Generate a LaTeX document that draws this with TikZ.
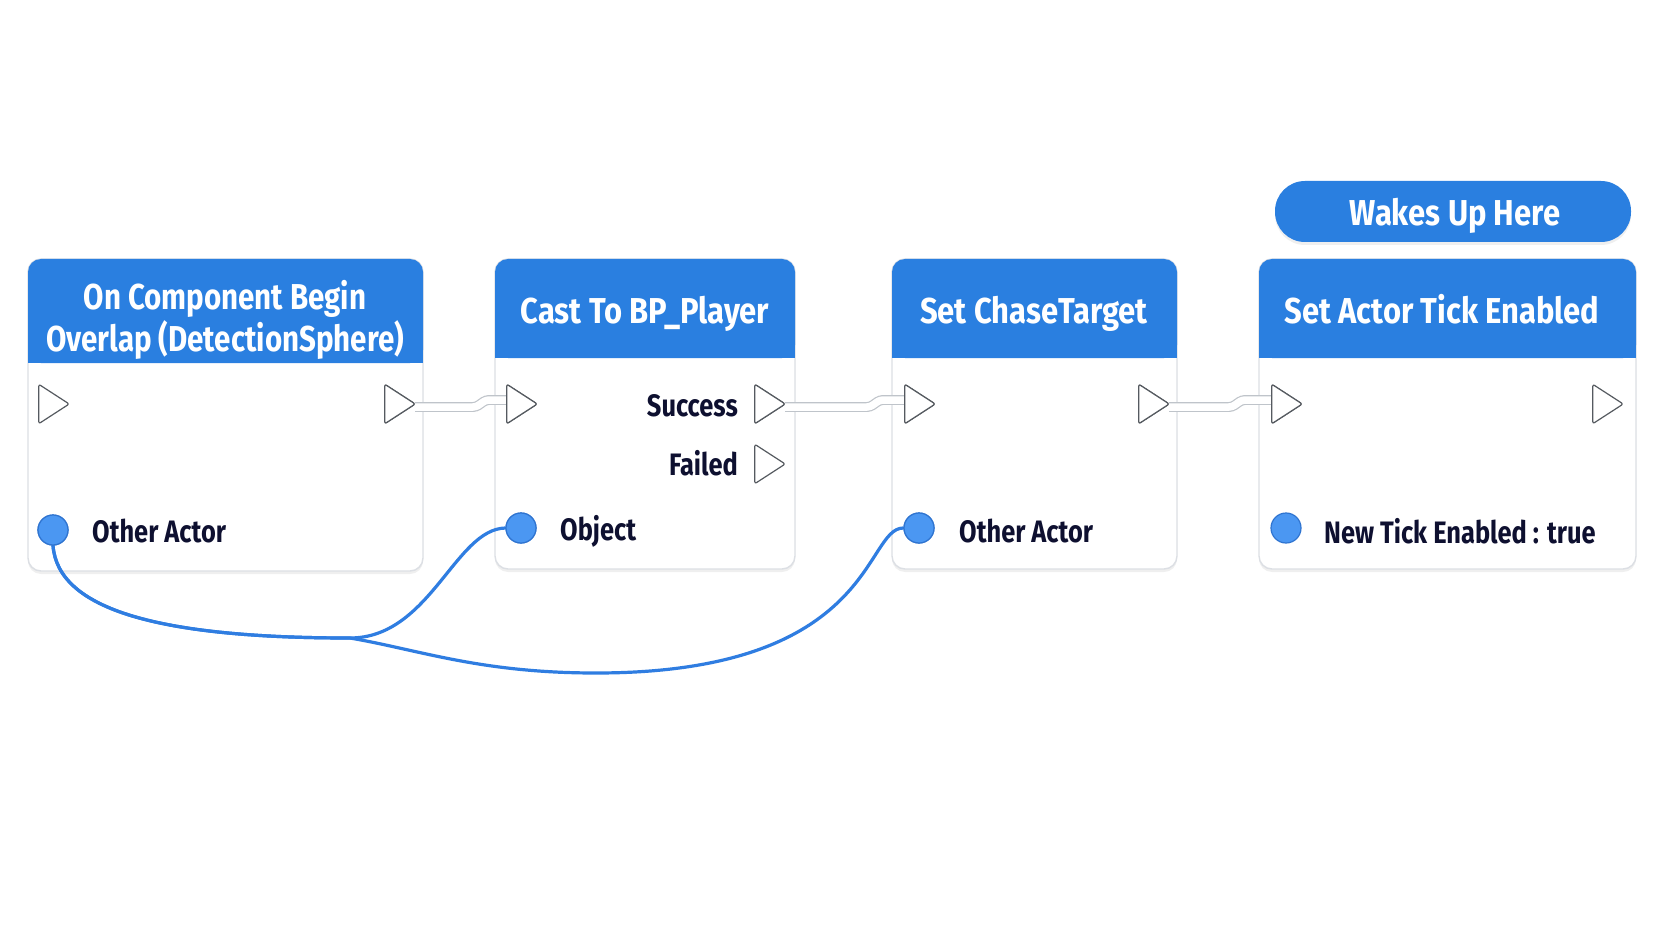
\documentclass[tikz,border=0pt]{standalone}
\usepackage{fontspec}
\setmainfont{Fira Sans}[FakeStretch=0.82]
\newfontfamily\titlefont{Fira Sans}[FakeStretch=0.86]
\usetikzlibrary{shadows}
\definecolor{hdr}{HTML}{2A7FE0}
\definecolor{cardline}{HTML}{DCDFE4}
\definecolor{pinfill}{HTML}{4B97F2}
\definecolor{pinedge}{HTML}{2F74D0}
\definecolor{wireblue}{HTML}{2F7DE1}
\definecolor{labeltext}{HTML}{0E1030}
\definecolor{pinstroke}{HTML}{555A60}
\definecolor{execgray}{HTML}{BFC4CA}
\newcommand\execpin[3]{\node[pinbox] (#1) at (#2,#3) {};
  \draw[pinline] (#1.north west) -- (#1.east) -- (#1.south west) -- cycle;}
\tikzset{
  card/.style={fill=white, draw=cardline, line width=1.4pt, rounded corners=13pt,
    drop shadow={opacity=0.12, shadow xshift=0pt, shadow yshift=-3pt}},
  pinbox/.style={draw=none, inner sep=0pt, minimum width=30pt, minimum height=39pt},
  pinline/.style={draw=pinstroke, fill=white, line width=1.2pt, rounded corners=2pt, line join=round},
  datapin/.style={circle, fill=pinfill, draw=pinedge, line width=1.2pt, minimum size=30pt, inner sep=0pt},
  title/.style={text=white, font=\bfseries\fontsize{36}{42}\selectfont, align=center},
  stitle/.style={text=white, font=\titlefont\bfseries\fontsize{36}{42}\selectfont, anchor=base},
  lbl/.style={text=labeltext, font=\bfseries\fontsize{31}{36}\selectfont, inner sep=0pt},
  execwire/.style={draw=execgray, line width=1.2pt, double=white, double distance=7.5pt, rounded corners=3pt},
  datawire/.style={draw=wireblue, line width=3.2pt, line cap=round},
  pill/.style={fill=hdr, rounded corners=30pt, drop shadow={opacity=0.12, shadow xshift=0pt, shadow yshift=-3pt}}
}
\begin{document}
\begin{tikzpicture}[x=1pt,y=-1pt]
\useasboundingbox[fill=white] (0,0) rectangle (1672,941);

% cards
\path[card] (28,259) rectangle (423,571);
\path[card] (495,259) rectangle (795,569);
\path[card] (892,259) rectangle (1177,569);
\path[card] (1259,259) rectangle (1636,569);

% headers
\fill[hdr, rounded corners=13pt] (28,259) rectangle (423,363);
\fill[hdr] (28,330) rectangle (423,363);
\fill[hdr, rounded corners=13pt] (495,259) rectangle (795,358);
\fill[hdr] (495,330) rectangle (795,358);
\fill[hdr, rounded corners=13pt] (892,259) rectangle (1177,358);
\fill[hdr] (892,330) rectangle (1177,358);
\fill[hdr, rounded corners=13pt] (1259,259) rectangle (1636,358);
\fill[hdr] (1259,330) rectangle (1636,358);

\node[title] (t1) at (225,320) {On Component Begin\\Overlap (DetectionSphere)};
\node[stitle] (t2) at (645,323) {Cast To BP\_Player};
\node[stitle] (t3) at (1034,323) {Set ChaseTarget};
\node[stitle] (t4) at (1442,323) {Set Actor Tick Enabled};

% pill
\path[pill] (1275,181) rectangle (1631,242);
\node[stitle] (wake) at (1455,226) {Wakes Up Here};

% exec pins
\execpin{n1in}{54}{404}
\execpin{n1out}{400}{404}
\execpin{n2in}{522}{404}
\execpin{n2ok}{770}{404}
\execpin{n2fail}{770}{464}
\execpin{n3in}{920}{404}
\execpin{n3out}{1154}{404}
\execpin{n4in}{1287}{404}
\execpin{n4out}{1608}{404}

% exec wires
\draw[execwire] ([shift={(0,3)}]n1out.east) -- (476,407) -- (486,400) -- ([shift={(0,-4)}]n2in.west);
\draw[execwire] ([shift={(0,3)}]n2ok.east) -- (870,407) -- (880,400) -- ([shift={(0,-4)}]n3in.west);
\draw[execwire] ([shift={(0,3)}]n3out.east) -- (1232,407) -- (1242,400) -- ([shift={(0,-4)}]n4in.west);
% redraw pins on top of wires
\foreach \p in {n1out,n2in,n2ok,n3in,n3out,n4in}{
  \draw[pinline] (\p.north west) -- (\p.east) -- (\p.south west) -- cycle;}

% exec labels
\node[lbl, anchor=east] (ls) at (738,406) {Success};
\node[lbl, anchor=east] (lf) at (738,463) {Failed};

% data pins and wires
\node[datapin] (n1p) at (53,530) {};
\node[datapin] (n2p) at (521,528) {};
\node[datapin] (n3p) at (919,528) {};
\node[datapin] (n4p) at (1286,528) {};

\draw[datawire] (n1p.south) .. controls (58,610) and (160,638) .. (350,638)
  .. controls (430,638) and (455,529) .. (n2p.west);
\draw[datawire] (n1p.south) .. controls (58,610) and (160,638) .. (350,638)
  .. controls (420,650) and (480,673) .. (596,673)
  .. controls (876,673) and (864,528) .. (n3p.west);

\node[datapin] at (n1p) {};
\node[datapin] at (n2p) {};
\node[datapin] at (n3p) {};

\node[lbl, anchor=west] (l1) at (92,531) {Other Actor};
\node[lbl, anchor=west] (l2) at (560,531) {Object};
\node[lbl, anchor=west] (l3) at (959,531) {Other Actor};
\node[lbl, anchor=west] (l4) at (1324,531) {New Tick Enabled : true};
\end{tikzpicture}
\end{document}
